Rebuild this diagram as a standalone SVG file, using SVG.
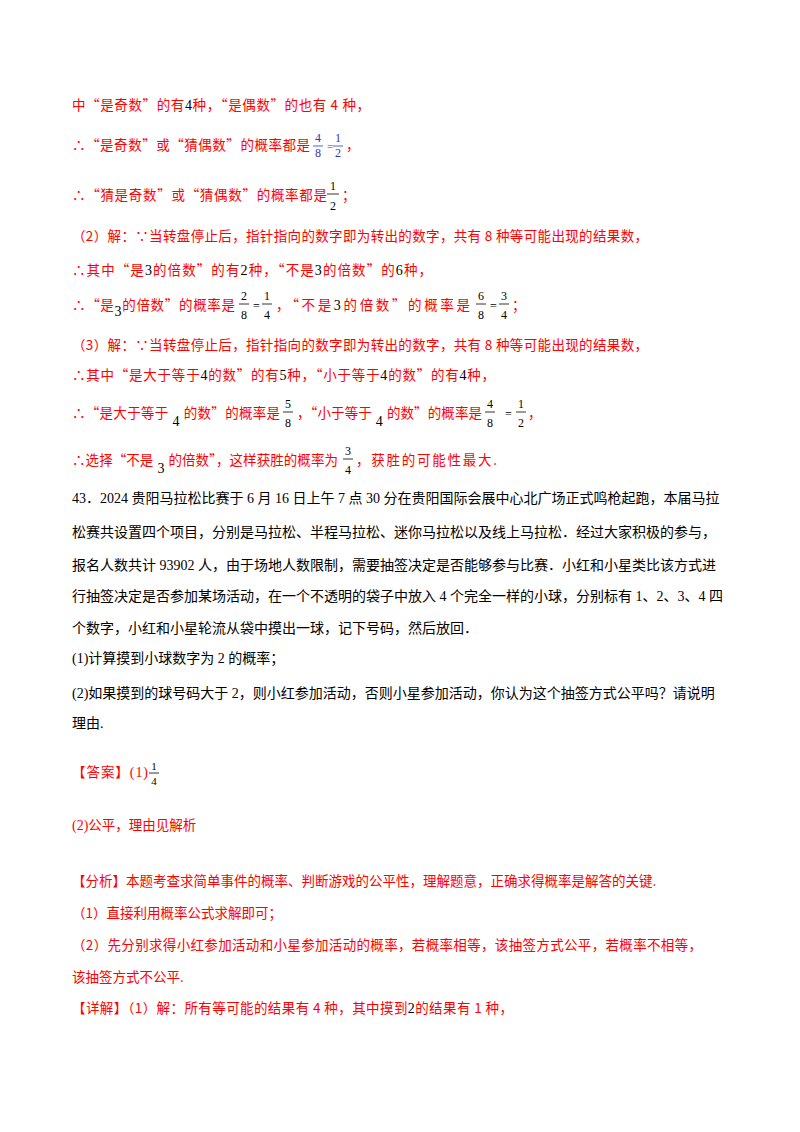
<svg xmlns="http://www.w3.org/2000/svg" width="800" height="1132" viewBox="0 0 800 1132">
<style>
text{font-family:"Liberation Serif","Noto Sans CJK SC",serif;font-size:14px}
.r{fill:#ff0000;font-family:"Noto Sans CJK SC","Liberation Serif",sans-serif;font-size:13.5px}
.k{fill:#000}.b{fill:#3333cc}
.m{font-size:14px;fill:#000;font-family:"Liberation Serif",serif}
.f{font-size:12px;text-anchor:middle}
line{stroke:#000;stroke-width:0.8}
</style>
<rect width="800" height="1132" fill="#fff"/>
<g id="text">
<text x="72" y="110" class="r" textLength="298" lengthAdjust="spacing">中“是奇数”的有<tspan class="m">4</tspan>种，“是偶数”的也有 4 种，</text>
<text x="72" y="150" class="r" textLength="238" lengthAdjust="spacing">∴“是奇数”或“猜偶数”的概率都是</text>
<text x="318" y="142" class="f b">4</text><line x1="313" y1="146" x2="323" y2="146" style="stroke:#3333cc"/><text x="318" y="157" class="f b">8</text>
<text x="327" y="150" class="b" style="font-size:11px">=</text>
<text x="338" y="142" class="f b">1</text><line x1="333" y1="146" x2="343" y2="146" style="stroke:#3333cc"/><text x="338" y="157" class="f b">2</text>
<text x="346" y="150" class="r">，</text>
<text x="72" y="200" class="r" textLength="255" lengthAdjust="spacing">∴“猜是奇数”或“猜偶数”的概率都是</text>
<text x="333" y="190" class="f k">1</text><line x1="327" y1="194" x2="339" y2="194"/><text x="333" y="210" class="f k">2</text>
<text x="342" y="200" class="r">；</text>
<text x="72" y="241" class="r" textLength="576" lengthAdjust="spacing">（2）解：∵当转盘停止后，指针指向的数字即为转出的数字，共有 8 种等可能出现的结果数，</text>
<text x="72" y="275" class="r" textLength="360" lengthAdjust="spacing">∴其中“是<tspan class="m">3</tspan>的倍数”的有<tspan class="m">2</tspan>种，“不是<tspan class="m">3</tspan>的倍数”的<tspan class="m">6</tspan>种，</text>
<text x="72" y="310" class="r" textLength="163" lengthAdjust="spacing">∴“是<tspan class="m" dy="6">3</tspan><tspan dy="-6">的倍数”的概率是</tspan></text>
<text x="244" y="300" class="f k">2</text><line x1="239" y1="304" x2="249" y2="304"/><text x="244" y="319" class="f k">8</text>
<text x="253" y="310" class="k" style="font-size:12px">=</text>
<text x="267" y="300" class="f k">1</text><line x1="262" y1="304" x2="272" y2="304"/><text x="267" y="319" class="f k">4</text>
<text x="276" y="310" class="r" textLength="194" lengthAdjust="spacing">，“不是<tspan class="m">3</tspan>的倍数”的概率是</text>
<text x="481" y="300" class="f k">6</text><line x1="476" y1="304" x2="486" y2="304"/><text x="481" y="319" class="f k">8</text>
<text x="490" y="310" class="k" style="font-size:12px">=</text>
<text x="504" y="300" class="f k">3</text><line x1="499" y1="304" x2="509" y2="304"/><text x="504" y="319" class="f k">4</text>
<text x="512" y="310" class="r">；</text>
<text x="72" y="350" class="r" textLength="576" lengthAdjust="spacing">（3）解：∵当转盘停止后，指针指向的数字即为转出的数字，共有 8 种等可能出现的结果数，</text>
<text x="72" y="380" class="r" textLength="423" lengthAdjust="spacing">∴其中“是大于等于<tspan class="m">4</tspan>的数”的有<tspan class="m">5</tspan>种，“小于等于<tspan class="m">4</tspan>的数”的有<tspan class="m">4</tspan>种，</text>
<text x="72" y="418" class="r" textLength="208" lengthAdjust="spacing">∴“是大于等于<tspan class="m" dx="4" dy="8">4</tspan><tspan dx="4" dy="-8">的数”的概率是</tspan></text>
<text x="288" y="408" class="f k">5</text><line x1="283" y1="412" x2="293" y2="412"/><text x="288" y="427" class="f k">8</text>
<text x="297" y="418" class="r" textLength="185" lengthAdjust="spacing">，“小于等于<tspan class="m" dx="4" dy="8">4</tspan><tspan dx="4" dy="-8">的数”的概率是</tspan></text>
<text x="490" y="408" class="f k">4</text><line x1="485" y1="412" x2="495" y2="412"/><text x="490" y="427" class="f k">8</text>
<text x="505" y="418" class="k" style="font-size:12px">=</text>
<text x="521" y="408" class="f k">1</text><line x1="516" y1="412" x2="526" y2="412"/><text x="521" y="427" class="f k">2</text>
<text x="528" y="418" class="r">，</text>
<text x="72" y="465" class="r" textLength="266" lengthAdjust="spacing">∴选择“不是<tspan class="m" dx="4" dy="8">3</tspan><tspan dx="4" dy="-8">的倍数”，这样获胜的概率为</tspan></text>
<text x="348" y="455" class="f k">3</text><line x1="343" y1="459" x2="353" y2="459"/><text x="348" y="474" class="f k">4</text>
<text x="356" y="465" class="r" textLength="141" lengthAdjust="spacing">，获胜的可能性最大.</text>
<text x="72" y="503" class="k">43．2024 贵阳马拉松比赛于 6 月 16 日上午 7 点 30 分在贵阳国际会展中心北广场正式鸣枪起跑，本届马拉</text>
<text x="72" y="537" class="k">松赛共设置四个项目，分别是马拉松、半程马拉松、迷你马拉松以及线上马拉松．经过大家积极的参与，</text>
<text x="72" y="570" class="k">报名人数共计 93902 人，由于场地人数限制，需要抽签决定是否能够参与比赛．小红和小星类比该方式进</text>
<text x="72" y="601" class="k">行抽签决定是否参加某场活动，在一个不透明的袋子中放入 4 个完全一样的小球，分别标有 1、2、3、4 四</text>
<text x="72" y="633" class="k">个数字，小红和小星轮流从袋中摸出一球，记下号码，然后放回．</text>
<text x="72" y="663" class="k">(1)计算摸到小球数字为 2 的概率；</text>
<text x="72" y="698" class="k">(2)如果摸到的球号码大于 2，则小红参加活动，否则小星参加活动，你认为这个抽签方式公平吗？请说明</text>
<text x="72" y="728" class="k">理由.</text>
<text x="72" y="777" class="r" textLength="76" lengthAdjust="spacing">【答案】<tspan class="m" style="fill:#ff0000">(1)</tspan></text>
<text x="154" y="770" class="f k" style="font-size:11px">1</text><line x1="149" y1="773" x2="159" y2="773"/><text x="154" y="785" class="f k" style="font-size:11px">4</text>
<text x="72" y="830" class="r"><tspan class="m" style="fill:#ff0000">(2)</tspan>公平，理由见解析</text>
<text x="72" y="886" class="r">【分析】本题考查求简单事件的概率、判断游戏的公平性，理解题意，正确求得概率是解答的关键.</text>
<text x="72" y="918" class="r">（1）直接利用概率公式求解即可；</text>
<text x="72" y="950" class="r" textLength="630" lengthAdjust="spacing">（2）先分别求得小红参加活动和小星参加活动的概率，若概率相等，该抽签方式公平，若概率不相等，</text>
<text x="72" y="982" class="r">该抽签方式不公平.</text>
<text x="72" y="1013" class="r" textLength="441" lengthAdjust="spacing">【详解】（1）解：所有等可能的结果有 4 种，其中摸到<tspan class="m">2</tspan>的结果有 1 种，</text>
</g>
</svg>
